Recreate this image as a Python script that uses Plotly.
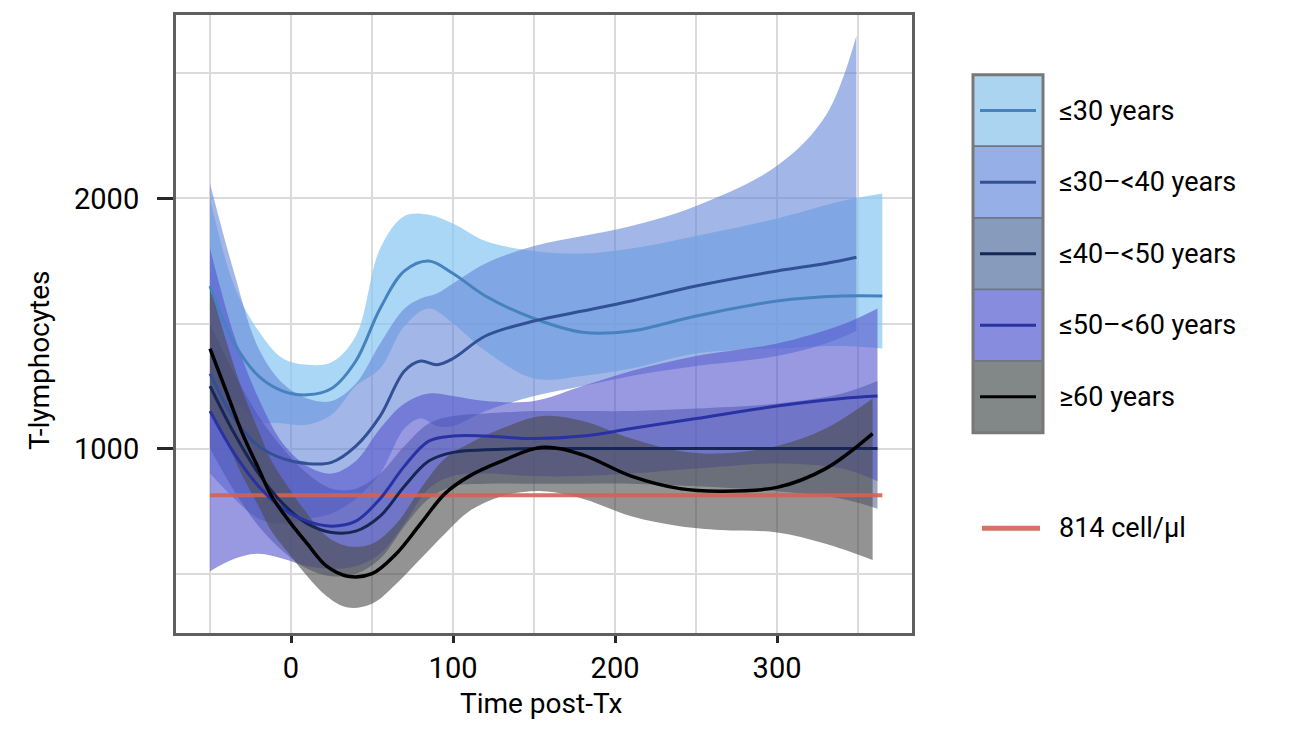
import plotly.graph_objects as go

# ---- data -------------------------------------------------------------
groups = ["≤30 years", "≤30–<40 years", "≤40–<50 years", "≤50–<60 years", "≥60 years"]

x_30 = [-50, -35, -20, -5, 10, 25, 40, 55, 70, 85, 100, 120, 150, 180, 210, 250, 300, 340, 365]
mean_30 = [1650, 1420, 1290, 1230, 1215, 1240, 1350, 1560, 1710, 1750, 1700, 1610, 1520, 1465, 1470, 1530, 1590, 1610, 1610]
upper_30 = [2000, 1650, 1470, 1360, 1335, 1345, 1450, 1800, 1930, 1935, 1900, 1830, 1790, 1780, 1800, 1850, 1920, 1990, 2020]
lower_30 = [1250, 1190, 1110, 1100, 1095, 1135, 1250, 1320, 1490, 1560, 1500, 1390, 1280, 1290, 1320, 1380, 1400, 1410, 1400]

x_30_40 = [-50, -35, -20, -5, 10, 25, 40, 55, 70, 80, 90, 100, 120, 150, 180, 210, 250, 300, 330, 349]
mean_30_40 = [1300, 1120, 1010, 960, 940, 945, 1010, 1130, 1310, 1350, 1335, 1360, 1450, 1510, 1550, 1590, 1650, 1710, 1740, 1765]
upper_30_40 = [2060, 1700, 1400, 1260, 1200, 1190, 1260, 1420, 1560, 1600, 1620, 1660, 1740, 1810, 1850, 1890, 1970, 2130, 2330, 2650]
lower_30_40 = [900, 800, 720, 700, 720, 740, 800, 900, 1080, 1120, 1090, 1090, 1150, 1210, 1250, 1290, 1330, 1370, 1420, 1470]

x_40_50 = [-50, -35, -20, -5, 10, 25, 40, 55, 70, 85, 100, 120, 150, 180, 210, 250, 300, 340, 362]
mean_40_50 = [1250, 1060, 900, 780, 700, 665, 670, 730, 850, 950, 985, 995, 1000, 1000, 1000, 1000, 1000, 1000, 1000]
upper_40_50 = [1500, 1300, 1130, 1000, 900, 840, 840, 900, 1010, 1100, 1130, 1140, 1150, 1150, 1150, 1160, 1180, 1220, 1270]
lower_40_50 = [1000, 830, 690, 590, 520, 490, 500, 560, 690, 800, 850, 860, 860, 860, 860, 850, 830, 800, 760]

x_50_60 = [-50, -35, -20, -5, 10, 25, 40, 55, 70, 85, 100, 120, 150, 180, 210, 250, 300, 340, 362]
mean_50_60 = [1150, 980, 850, 760, 710, 690, 710, 800, 930, 1030, 1050, 1050, 1040, 1050, 1080, 1120, 1170, 1200, 1210]
upper_50_60 = [1800, 1450, 1200, 1020, 930, 900, 950, 1080, 1180, 1220, 1210, 1190, 1190, 1250, 1310, 1370, 1420, 1495, 1560]
lower_50_60 = [510, 560, 580, 560, 530, 520, 530, 580, 700, 840, 890, 900, 890, 890, 900, 920, 940, 920, 870]

x_60 = [-50, -40, -30, -20, -12, 0, 10, 22, 35, 50, 65, 80, 95, 110, 130, 155, 180, 210, 240, 265, 300, 330, 359]
mean_60 = [1400, 1230, 1060, 920, 810, 700, 620, 530, 490, 500, 580, 700, 820, 890, 950, 1005, 975, 890, 840, 830, 845, 920, 1060]
upper_60 = [1650, 1430, 1230, 1070, 950, 830, 740, 650, 610, 620, 700, 840, 960, 1020, 1080, 1130, 1110, 1040, 990, 980, 1010, 1080, 1200]
lower_60 = [1150, 1030, 890, 770, 670, 570, 490, 410, 365, 380, 460, 560, 660, 750, 810, 830, 800, 730, 690, 675, 665, 620, 555]

threshold = 814
threshold_label = "814 cell/µl"
threshold_x = [-50, 365]

x_ticks = [0, 100, 200, 300]
y_ticks = [1000, 2000]

# ---- styling ----------------------------------------------------------
band_fill = [
    "rgba(135,198,242,0.70)",
    "rgba(100,135,215,0.60)",
    "rgba(55,75,130,0.50)",
    "rgba(85,85,205,0.60)",
    "rgba(75,75,75,0.60)",
]
key_fill = [
    "rgb(170,212,240)",
    "rgb(150,175,230)",
    "rgb(135,155,188)",
    "rgb(135,140,222)",
    "rgb(130,136,136)",
]
line_col = [
    "rgb(70,130,190)",
    "rgb(50,80,150)",
    "rgb(22,38,85)",
    "rgb(40,50,165)",
    "rgb(0,0,0)",
]
red = "rgba(210,98,85,0.9)"
FONT = "Roboto, Liberation Sans, sans-serif"

series = [
    (x_30, mean_30, upper_30, lower_30),
    (x_30_40, mean_30_40, upper_30_40, lower_30_40),
    (x_40_50, mean_40_50, upper_40_50, lower_40_50),
    (x_50_60, mean_50_60, upper_50_60, lower_50_60),
    (x_60, mean_60, upper_60, lower_60),
]

fig = go.Figure()

# confidence bands
for i, (xs, m, up, lo) in enumerate(series):
    fig.add_trace(go.Scatter(x=xs, y=lo, mode="lines",
                             line=dict(width=0, shape="spline", smoothing=1.0),
                             showlegend=False, hoverinfo="skip"))
    fig.add_trace(go.Scatter(x=xs, y=up, mode="lines", fill="tonexty",
                             fillcolor=band_fill[i],
                             line=dict(width=0, shape="spline", smoothing=1.0),
                             showlegend=False, hoverinfo="skip"))

# reference threshold
fig.add_trace(go.Scatter(x=threshold_x, y=[threshold, threshold], mode="lines",
                         line=dict(color=red, width=4), showlegend=False,
                         hoverinfo="skip"))

# smoothed means
for i, (xs, m, up, lo) in enumerate(series):
    fig.add_trace(go.Scatter(x=xs, y=m, mode="lines", name=groups[i],
                             line=dict(color=line_col[i], width=3 if i < 4 else 3.5,
                                       shape="spline", smoothing=1.0),
                             showlegend=False))

# ---- layout -----------------------------------------------------------
W, H = 1299, 742
L, R, T, B = 176, 912, 13, 633


def px(xp):
    return (xp - L) / (R - L)


def py(yp):
    return (B - yp) / (B - T)


shapes = []
annotations = []

# legend block for the age groups
key_top, key_h = 73, 71.8
key_l, key_r = 973, 1043
for i, g in enumerate(groups):
    y0 = key_top + i * key_h
    shapes.append(dict(type="rect", xref="paper", yref="paper",
                       x0=px(key_l), x1=px(key_r), y0=py(y0 + key_h), y1=py(y0),
                       fillcolor=key_fill[i], line=dict(color="rgb(110,118,130)", width=1.5),
                       layer="above"))
    yc = y0 + key_h / 2
    shapes.append(dict(type="line", xref="paper", yref="paper",
                       x0=px(980), x1=px(1036), y0=py(yc), y1=py(yc),
                       line=dict(color=line_col[i], width=3), layer="above"))
    annotations.append(dict(text=g, xref="paper", yref="paper", x=px(1057), y=py(yc),
                            xanchor="left", yanchor="middle", showarrow=False,
                            font=dict(family=FONT, size=27, color="black")))
shapes.append(dict(type="rect", xref="paper", yref="paper",
                   x0=px(key_l), x1=px(key_r), y0=py(key_top + 5 * key_h), y1=py(key_top),
                   line=dict(color="rgb(120,120,120)", width=3), layer="above"))

# legend entry for the threshold line
shapes.append(dict(type="line", xref="paper", yref="paper",
                   x0=px(982), x1=px(1040), y0=py(528), y1=py(528),
                   line=dict(color=red, width=5), layer="above"))
annotations.append(dict(text=threshold_label, xref="paper", yref="paper",
                        x=px(1057), y=py(528), xanchor="left", yanchor="middle",
                        showarrow=False, font=dict(family=FONT, size=27, color="black")))

# axis titles
annotations.append(dict(text="Time post-Tx", xref="paper", yref="paper",
                        x=px(541), y=py(704), xanchor="center", yanchor="middle",
                        showarrow=False, font=dict(family=FONT, size=28, color="black")))
annotations.append(dict(text="T-lymphocytes", xref="paper", yref="paper",
                        x=px(40), y=py(360), xanchor="center", yanchor="middle",
                        textangle=-90, showarrow=False,
                        font=dict(family=FONT, size=28, color="black")))

grid = "rgb(218,218,218)"
fig.update_layout(
    width=W, height=H,
    margin=dict(l=L, r=W - R, t=T, b=H - B),
    paper_bgcolor="white", plot_bgcolor="white",
    font=dict(family=FONT, color="black"),
    shapes=shapes, annotations=annotations,
    xaxis=dict(range=[-71, 383.3], tickvals=x_ticks, ticks="outside", ticklen=7,
               tickwidth=3, tickcolor="rgb(40,40,40)",
               tickfont=dict(family=FONT, size=29, color="black"),
               showgrid=True, gridcolor=grid, gridwidth=2,
               minor=dict(dtick=50, tick0=0, showgrid=True, gridcolor=grid, gridwidth=1.5),
               showline=True, linecolor="rgb(95,95,95)", linewidth=3, mirror=True,
               zeroline=False),
    yaxis=dict(range=[263, 2733], tickvals=y_ticks, ticks="outside", ticklen=16,
               tickwidth=3, tickcolor="rgb(40,40,40)", ticklabelstandoff=12,
               tickfont=dict(family=FONT, size=29, color="black"),
               showgrid=True, gridcolor=grid, gridwidth=2,
               minor=dict(dtick=500, tick0=0, showgrid=True, gridcolor=grid, gridwidth=1.5),
               showline=True, linecolor="rgb(95,95,95)", linewidth=3, mirror=True,
               zeroline=False),
)

fig.write_html("out.html")
